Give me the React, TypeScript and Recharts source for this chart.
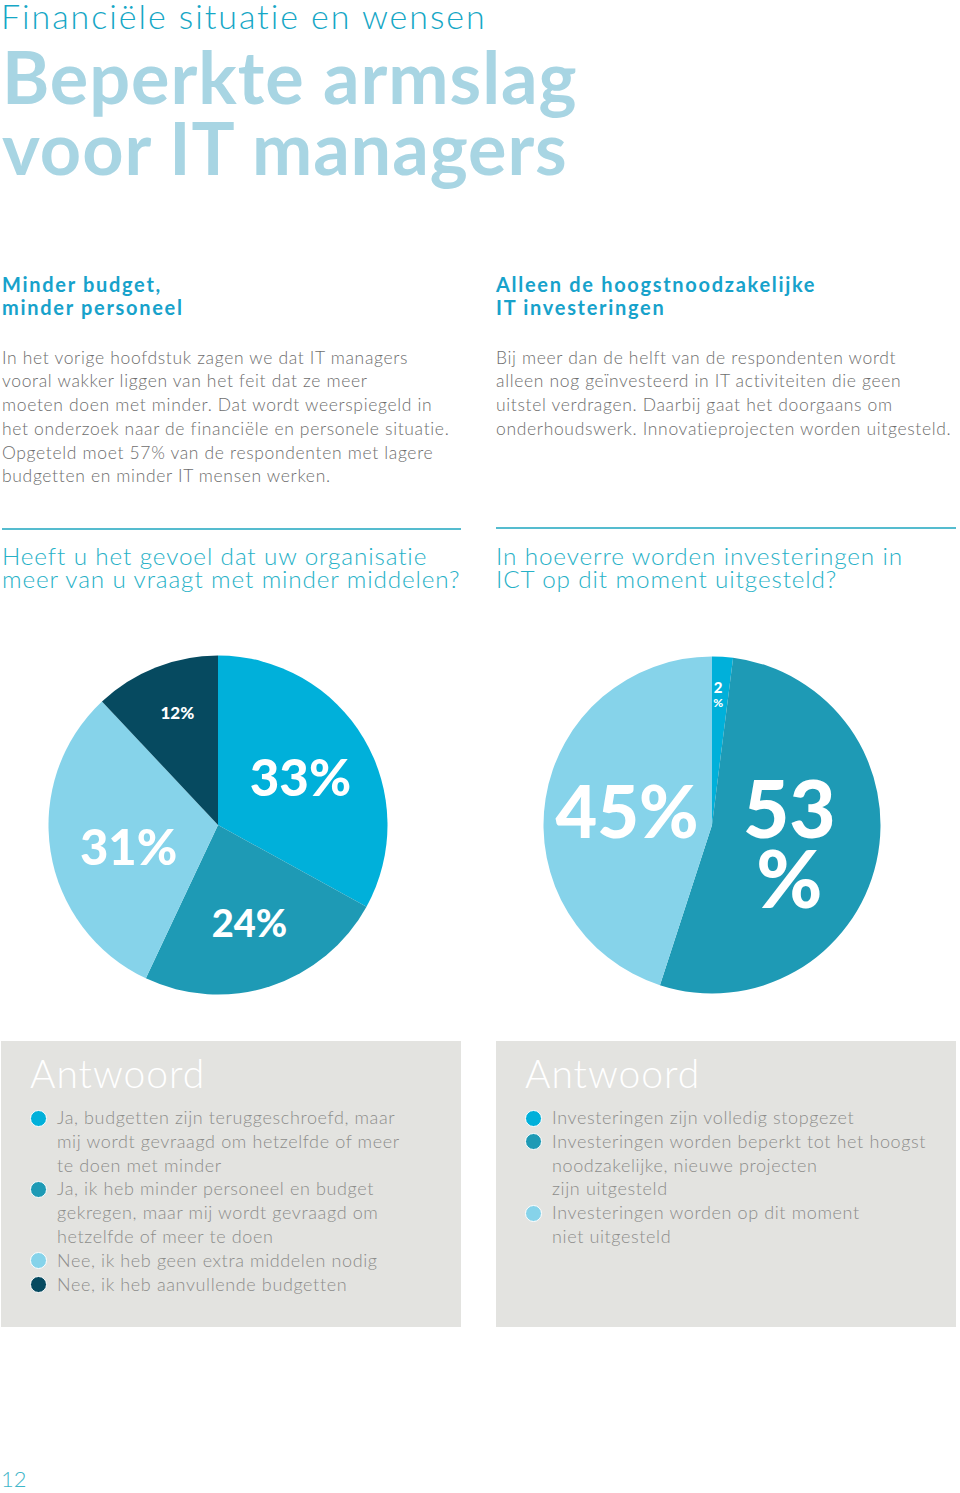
import React from 'react';
import { PieChart, Pie, Cell } from 'recharts';

// ---- data ----
const q1Categories = [
  'Ja, budgetten zijn teruggeschroefd, maar\nmij wordt gevraagd om hetzelfde of meer\nte doen met minder',
  'Ja, ik heb minder personeel en budget\ngekregen, maar mij wordt gevraagd om\nhetzelfde of meer te doen',
  'Nee, ik heb geen extra middelen nodig',
  'Nee, ik heb aanvullende budgetten',
];
const q1Values = [33, 24, 31, 12];

const q2Categories = [
  'Investeringen zijn volledig stopgezet',
  'Investeringen worden beperkt tot het hoogst\nnoodzakelijke, nieuwe projecten\nzijn uitgesteld',
  'Investeringen worden op dit moment\nniet uitgesteld',
];
const q2Values = [2, 53, 45];

const q1Colors = ['#00b0da', '#1e9ab5', '#86d3ea', '#064a60'];
const q2Colors = ['#00b0da', '#1e9ab5', '#86d3ea'];

// ---- label layout (style, not data) ----
type LabelCfg = { r: number; lines: { fs: number; dy: number; part: 'all' | 'num' | 'pct' }[]; dx?: number; dy?: number };
const q1Labels: LabelCfg[] = [
  { r: 0.565, lines: [{ fs: 51, dy: 0, part: 'all' }] },
  { r: 0.6, lines: [{ fs: 38, dy: 0, part: 'all' }] },
  { r: 0.534, dy: 7, lines: [{ fs: 49, dy: 0, part: 'all' }] },
  { r: 0.7, dx: 3, dy: -2, lines: [{ fs: 17, dy: 0, part: 'all' }] },
];
const q2Labels: LabelCfg[] = [
  { r: 0.77, dx: -2, dy: -1, lines: [{ fs: 15, dy: -7.5, part: 'num' }, { fs: 12, dy: 7.5, part: 'pct' }] },
  { r: 0.47, lines: [{ fs: 80, dy: -35, part: 'num' }, { fs: 80, dy: 35, part: 'pct' }] },
  { r: 0.51, dy: -2, lines: [{ fs: 72, dy: 0, part: 'all' }] },
];

const RAD = Math.PI / 180;
const FONT = 'Lato, "Open Sans", sans-serif';

const makeLabel = (cfgs: LabelCfg[]) => (props: any) => {
  const { cx, cy, midAngle, outerRadius, index, value } = props;
  const cfg = cfgs[index];
  const d = outerRadius * cfg.r;
  const x = cx + d * Math.cos(-midAngle * RAD) + (cfg.dx || 0);
  const y = cy + d * Math.sin(-midAngle * RAD) + (cfg.dy || 0);
  return (
    <g>
      {cfg.lines.map((l, i) => (
        <text
          key={i}
          x={x}
          y={y + l.dy}
          fill="#ffffff"
          textAnchor="middle"
          dominantBaseline="central"
          style={{ fontFamily: FONT, fontWeight: 900, fontSize: l.fs }}
        >
          {l.part === 'all' ? `${value}%` : l.part === 'num' ? `${value}` : '%'}
        </text>
      ))}
    </g>
  );
};

const PieBlock = ({ names, values, colors, labels, cx, cy, r }: any) => {
  const data = names.map((n: string, i: number) => ({ name: n, value: values[i] }));
  const size = 380;
  return (
    <div style={{ position: 'absolute', left: cx - size / 2, top: cy - size / 2, width: size, height: size }}>
      <PieChart width={size} height={size} margin={{ top: 0, right: 0, bottom: 0, left: 0 }}>
        <Pie
          data={data}
          dataKey="value"
          nameKey="name"
          cx={size / 2}
          cy={size / 2}
          outerRadius={r}
          startAngle={90}
          endAngle={-270}
          stroke="none"
          labelLine={false}
          label={makeLabel(labels)}
          isAnimationActive={false}
        >
          {data.map((_: any, i: number) => (
            <Cell key={i} fill={colors[i]} stroke="none" />
          ))}
        </Pie>
      </PieChart>
    </div>
  );
};

const Legend = ({ names, colors, left, top }: any) => (
  <div style={{ position: 'absolute', left, top, width: 460, height: 286, background: '#e3e3e0' }}>
    <div
      style={{
        position: 'absolute', left: 29, top: 13, fontSize: 39, lineHeight: '39px', letterSpacing: 1,
        color: '#ffffff', fontWeight: 300, fontFamily: FONT, whiteSpace: 'nowrap',
      }}
    >
      Antwoord
    </div>
    <div style={{ position: 'absolute', left: 56, top: 65 }}>
      {names.map((n: string, i: number) => (
        <div key={i} style={{ position: 'relative', whiteSpace: 'pre', fontSize: 18, lineHeight: '23.8px', letterSpacing: 0.62, color: '#8d8d8b', fontFamily: FONT, fontWeight: 300 }}>
          <span
            style={{
              position: 'absolute', left: -27, top: 3.5, width: 15, height: 15, borderRadius: '50%',
              background: colors[i], border: '1.5px solid #ffffff',
            }}
          />
          {n}
        </div>
      ))}
    </div>
  </div>
);

const abs = (left: number, top: number, extra: any = {}) => ({ position: 'absolute' as const, left, top, whiteSpace: 'pre' as const, fontFamily: FONT, ...extra });

export default function App() {
  const headStyle = { fontSize: 20, lineHeight: '23px', fontWeight: 700, letterSpacing: 1.7, color: '#17a2cb' };
  const bodyStyle = { fontSize: 17.5, lineHeight: '23.75px', fontWeight: 300, letterSpacing: 0.66, color: '#6e6e6e' };
  const qStyle = { fontSize: 24.3, lineHeight: '23.3px', fontWeight: 300, letterSpacing: 0.87, color: '#27b1c7' };
  return (
    <div style={{ position: 'absolute', left: 0, top: 0, width: 960, height: 1493, background: '#ffffff', overflow: 'hidden', fontFamily: FONT }}>
      <div style={abs(1, 0.5, { fontSize: 34, lineHeight: '30px', fontWeight: 300, letterSpacing: 1.95, color: '#16a7c6' })}>Financiële situatie en wensen</div>
      <div style={abs(2, 40.6, { fontSize: 72, lineHeight: '71px', fontWeight: 700, letterSpacing: 0.95, color: '#a8d5e3' })}>{'Beperkte armslag\nvoor IT managers'}</div>

      <div style={abs(2, 272.8, headStyle)}>{'Minder budget,\nminder personeel'}</div>
      <div style={abs(2, 345.6, bodyStyle)}>
        {'In het vorige hoofdstuk zagen we dat IT managers\nvooral wakker liggen van het feit dat ze meer\nmoeten doen met minder. Dat wordt weerspiegeld in\nhet onderzoek naar de financiële en personele situatie.\nOpgeteld moet 57% van de respondenten met lagere\nbudgetten en minder IT mensen werken.'}
      </div>

      <div style={abs(496, 272.8, headStyle)}>{'Alleen de hoogstnoodzakelijke\nIT investeringen'}</div>
      <div style={abs(496, 345.6, bodyStyle)}>
        {'Bij meer dan de helft van de respondenten wordt\nalleen nog geïnvesteerd in IT activiteiten die geen\nuitstel verdragen. Daarbij gaat het doorgaans om\nonderhoudswerk. Innovatieprojecten worden uitgesteld.'}
      </div>

      <div style={{ position: 'absolute', left: 2, top: 528, width: 459, height: 1.5, background: '#55bccf' }} />
      <div style={{ position: 'absolute', left: 496, top: 527, width: 460, height: 1.5, background: '#55bccf' }} />

      <div style={abs(2, 543.7, qStyle)}>{'Heeft u het gevoel dat uw organisatie\nmeer van u vraagt met minder middelen?'}</div>
      <div style={abs(496, 543.7, qStyle)}>{'In hoeverre worden investeringen in\nICT op dit moment uitgesteld?'}</div>

      <PieBlock names={q1Categories} values={q1Values} colors={q1Colors} labels={q1Labels} cx={217.5} cy={824.5} r={169.5} />
      <PieBlock names={q2Categories} values={q2Values} colors={q2Colors} labels={q2Labels} cx={711.5} cy={824.5} r={168.5} />

      <Legend names={q1Categories} colors={q1Colors} left={1} top={1041} />
      <Legend names={q2Categories} colors={q2Colors} left={496} top={1041} />

      <div style={abs(1, 1467.5, { fontSize: 22, lineHeight: '22px', fontWeight: 300, color: '#3fb6c9' })}>12</div>
    </div>
  );
}
